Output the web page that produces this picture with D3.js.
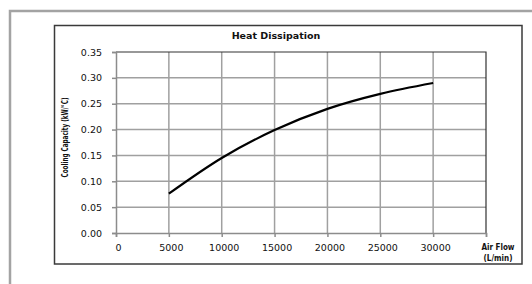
<!DOCTYPE html>
<html>
<head>
<meta charset="utf-8">
<script src="https://cdn.jsdelivr.net/npm/d3@7"></script>
<style>
  body { margin: 0; background: #fff; }
  svg { display: block; }
</style>
</head>
<body>
<script>
/* CONSTANTS AND GLOBALS */
const width = 532,
  height = 284,
  margin = { top: 52, right: 46, bottom: 51, left: 116 }; // plot area inside the chart box

/* DATA */
const airFlow = [5000, 10000, 15000, 20000, 25000, 30000];           // L/min
const coolingCapacity = [0.076, 0.145, 0.199, 0.240, 0.269, 0.290];  // kW/°C
const xTicks = [0, 5000, 10000, 15000, 20000, 25000, 30000, 35000];
const xTickLabels = ["0", "5000", "10000", "15000", "20000", "25000", "30000", ""];
const yTicks = [0, 0.05, 0.10, 0.15, 0.20, 0.25, 0.30, 0.35];

const data = airFlow.map((x, i) => ({ x, y: coolingCapacity[i] }));

const svg = d3.select("body")
  .append("svg")
  .attr("width", width)
  .attr("height", height);

// outer page frame (grey, top and left only)
svg.append("path")
  .attr("d", `M10,${height} V11 H${width}`)
  .attr("fill", "none")
  .attr("stroke", "#a3a3a3")
  .attr("stroke-width", 2.5);

// chart box
svg.append("rect")
  .attr("x", 54.5)
  .attr("y", 25.5)
  .attr("width", 467.5)
  .attr("height", 238.5)
  .attr("fill", "#fff")
  .attr("stroke", "#3a3a3a")
  .attr("stroke-width", 1.5);

// scales
const xScale = d3.scaleLinear()
  .domain([0, 35000])
  .range([margin.left, width - margin.right]);

const yScale = d3.scaleLinear()
  .domain([0, 0.35])
  .range([height - margin.bottom, margin.top]);

// grid lines
svg.append("g")
  .selectAll("line")
  .data(xTicks.slice(1, -1))
  .join("line")
  .attr("x1", d => xScale(d))
  .attr("x2", d => xScale(d))
  .attr("y1", yScale(0))
  .attr("y2", yScale(0.35))
  .attr("stroke", "#a0a0a0")
  .attr("stroke-width", 1.5);

svg.append("g")
  .selectAll("line")
  .data(yTicks.slice(1, -1))
  .join("line")
  .attr("x1", xScale(0))
  .attr("x2", xScale(35000))
  .attr("y1", d => yScale(d))
  .attr("y2", d => yScale(d))
  .attr("stroke", "#a0a0a0")
  .attr("stroke-width", 1.5);

// plot border top and right
svg.append("path")
  .attr("d", `M${xScale(0)},${yScale(0.35)} H${xScale(35000)} V${yScale(0)}`)
  .attr("fill", "none")
  .attr("stroke", "#333")
  .attr("stroke-width", 1.2);

// axes
const xAxis = d3.axisBottom(xScale)
  .tickValues(xTicks)
  .tickSize(4)
  .tickPadding(7)
  .tickFormat((d, i) => xTickLabels[i]);

const yAxis = d3.axisLeft(yScale)
  .tickValues(yTicks)
  .tickSize(4)
  .tickPadding(10)
  .tickFormat(d3.format(".2f"));

const gx = svg.append("g")
  .attr("transform", `translate(0, ${yScale(0)})`)
  .call(xAxis);

const gy = svg.append("g")
  .attr("transform", `translate(${xScale(0)}, 0)`)
  .call(yAxis);

[gx, gy].forEach(g => {
  g.select(".domain").attr("stroke", "#8c8c8c").attr("stroke-width", 1.5);
  g.selectAll(".tick line").attr("stroke", "#8c8c8c").attr("stroke-width", 1.5);
  g.selectAll("text")
    .attr("font-family", "DejaVu Sans, Verdana, sans-serif")
    .attr("font-size", "9.5px")
    .attr("fill", "#111");
});
gx.selectAll("text").attr("dx", 2);

// curve
const line = d3.line()
  .x(d => xScale(d.x))
  .y(d => yScale(d.y))
  .curve(d3.curveMonotoneX);

svg.append("path")
  .datum(data)
  .attr("d", line)
  .attr("fill", "none")
  .attr("stroke", "#000")
  .attr("stroke-width", 2.2);

// title
svg.append("text")
  .attr("x", 276)
  .attr("y", 39)
  .attr("text-anchor", "middle")
  .attr("font-family", "DejaVu Sans, Verdana, sans-serif")
  .attr("font-weight", "bold")
  .attr("font-size", "9.5px")
  .attr("fill", "#111")
  .text("Heat Dissipation");

// y axis title
svg.append("text")
  .attr("transform", `translate(68, ${(yScale(0) + yScale(0.35)) / 2 - 5}) rotate(-90)`)
  .attr("text-anchor", "middle")
  .attr("font-family", "DejaVu Sans Condensed, DejaVu Sans, sans-serif")
  .attr("font-weight", "bold")
  .attr("font-size", "8.5px")
  .attr("textLength", 80)
  .attr("lengthAdjust", "spacingAndGlyphs")
  .attr("fill", "#111")
  .text("Cooling Capacity (kW/°C)");

// x axis title
const xTitle = svg.append("text")
  .attr("text-anchor", "middle")
  .attr("font-family", "DejaVu Sans Condensed, DejaVu Sans, sans-serif")
  .attr("font-weight", "bold")
  .attr("font-size", "8px")
  .attr("fill", "#111");
xTitle.append("tspan").attr("x", 498).attr("y", 250).text("Air Flow");
xTitle.append("tspan").attr("x", 498).attr("y", 261).text("(L/min)");
</script>
</body>
</html>
